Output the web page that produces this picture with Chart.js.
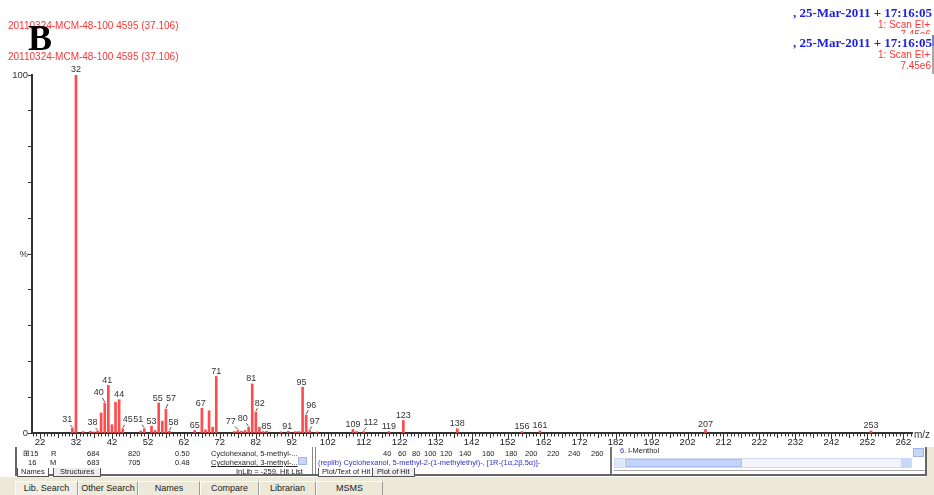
<!DOCTYPE html>
<html><head><meta charset="utf-8">
<script src="https://cdn.jsdelivr.net/npm/chart.js@4.4.1/dist/chart.umd.min.js"></script>
<style>
html,body{margin:0;padding:0;background:#fff;}
#wrap{position:relative;width:934px;height:495px;overflow:hidden;background:#fff;}
#c{position:absolute;left:0;top:0;width:934px;height:495px;}
.t{position:absolute;white-space:nowrap;font-family:"Liberation Sans",Arial,sans-serif;}
.red{color:#ff3535;font-size:10px;line-height:10px;}
.blue{color:#2020e0;font-family:"Liberation Serif","Times New Roman",serif;font-weight:bold;font-size:13px;line-height:13px;}
.p{position:absolute;white-space:nowrap;font-family:"Liberation Sans",Arial,sans-serif;font-size:7.5px;line-height:8px;color:#222;}
.box{position:absolute;}
.tab{position:absolute;top:481px;height:14px;border:1px solid #9a9a9a;border-bottom:none;border-top-color:#fdfdfd;border-left-color:#fdfdfd;box-sizing:border-box;text-align:center;font-family:"Liberation Sans",Arial,sans-serif;font-size:9px;line-height:13px;color:#222;background:#ece9d8;}
</style></head><body>
<div id="wrap">
<canvas id="c" width="934" height="495"></canvas>

<!-- header group 1 -->
<div class="t red" style="left:8px;top:21px;">20110324-MCM-48-100 4595 (37.106)</div>
<div class="t" style="left:28px;top:20px;font-family:'Liberation Serif','Times New Roman',serif;font-weight:bold;font-size:36px;line-height:36px;color:#000;">B</div>
<div class="t red" style="left:8px;top:51.5px;">20110324-MCM-48-100 4595 (37.106)</div>
<div class="t blue" style="right:2px;top:5.8px;">, 25-Mar-2011 + 17:16:05</div>
<div class="t red" style="right:4px;top:20px;">1: Scan EI+</div>
<div class="t red" style="right:3px;top:30px;">7.45e6</div>
<!-- header group 2 (covers part of group 1) -->
<div class="box" style="left:782px;top:34px;width:152px;height:40px;background:#fff;"></div>
<div class="t blue" style="right:2px;top:35.6px;">, 25-Mar-2011 + 17:16:05</div>
<div class="t red" style="right:4px;top:50px;">1: Scan EI+</div>
<div class="t red" style="right:3px;top:61px;">7.45e6</div>
<div class="box" style="left:932px;top:35px;width:2px;height:11px;background:#6f86c8;"></div>
<div class="box" style="left:932px;top:46px;width:2px;height:28px;background:#a8a8a8;"></div>
<div class="t" style="left:914px;top:430px;font-size:10px;line-height:10px;color:#333;">m/z</div>

<!-- bottom panel -->
<div class="box" style="left:925px;top:447px;width:9px;height:32px;background:#ece9d8;"></div>
<div class="box" style="left:0;top:477px;width:934px;height:18px;background:#ece9d8;"></div>
<div class="box" style="left:15px;top:447px;width:2px;height:29px;background:#666;"></div>
<div class="box" style="left:15px;top:474px;width:912px;height:2px;background:#666;"></div>
<div class="box" style="left:925px;top:447px;width:2px;height:29px;background:#666;"></div>
<div class="box" style="left:312px;top:447px;width:1px;height:27px;background:#888;"></div>
<div class="box" style="left:315px;top:447px;width:1px;height:27px;background:#888;"></div>
<div class="box" style="left:610px;top:447px;width:2px;height:27px;background:#777;"></div>
<div class="box" style="left:614px;top:470px;width:311px;height:1px;background:#aaa;"></div>

<div class="p" style="left:23px;top:450px;">&#8862;15</div>
<div class="p" style="left:51px;top:450px;">R</div>
<div class="p" style="left:87px;top:450px;">684</div>
<div class="p" style="left:128px;top:450px;">820</div>
<div class="p" style="left:175px;top:450px;">0.50</div>
<div class="p" style="left:211px;top:450px;">Cyclohexanol, 5-methyl-...</div>
<div class="p" style="left:28px;top:459px;">16</div>
<div class="p" style="left:50px;top:459px;">M</div>
<div class="p" style="left:87px;top:459px;">683</div>
<div class="p" style="left:128px;top:459px;">705</div>
<div class="p" style="left:175px;top:459px;">0.48</div>
<div class="p" style="left:211px;top:459px;text-decoration:underline;">Cyclohexanol, 3-methyl-...</div>
<div class="box" style="left:298px;top:457px;width:9px;height:8px;background:#c8d6f8;border:1px solid #9fb4ea;box-sizing:border-box;"></div>
<div class="p" style="left:17px;top:467.5px;border:1px solid #555;border-top:none;padding:0 3px;background:#fff;">Names</div>
<div class="p" style="left:53px;top:467.5px;border:1px solid #555;border-top:none;padding:0 6px;background:#eee;">Structures</div>
<div class="p" style="left:236px;top:467.5px;">InLib = -259, Hit List</div>

<div class="p" style="left:383px;top:450px;">40</div>
<div class="p" style="left:398px;top:450px;">60</div>
<div class="p" style="left:412px;top:450px;">80</div>
<div class="p" style="left:424px;top:450px;">100</div>
<div class="p" style="left:440px;top:450px;">120</div>
<div class="p" style="left:459px;top:450px;">140</div>
<div class="p" style="left:482px;top:450px;">160</div>
<div class="p" style="left:505px;top:450px;">180</div>
<div class="p" style="left:525px;top:450px;">200</div>
<div class="p" style="left:547px;top:450px;">220</div>
<div class="p" style="left:568px;top:450px;">240</div>
<div class="p" style="left:591px;top:450px;">260</div>
<div class="p" style="left:318px;top:459px;color:#3030d0;">(replib) Cyclohexanol, 5-methyl-2-(1-methylethyl)-, [1R-(1&#945;,2&#946;,5&#945;)]-</div>
<div class="p" style="left:318px;top:467.5px;border:1px solid #555;border-top:none;padding:0 3px;background:#fff;">Plot/Text of Hit</div>
<div class="p" style="left:372px;top:467.5px;border:1px solid #555;border-top:none;padding:0 4px;background:#eee;">Plot of Hit</div>

<div class="p" style="left:620px;top:447px;"><span style="color:#3030d0">6.</span> l-Menthol</div>
<div class="box" style="left:913px;top:448px;width:11px;height:9px;background:#c8d6f8;border:1px solid #9fb4ea;box-sizing:border-box;"></div>
<div class="box" style="left:614px;top:458px;width:298px;height:10px;background:#f3f5fb;border:1px solid #d0dbf5;box-sizing:border-box;"></div>
<div class="box" style="left:615px;top:459px;width:9px;height:8px;background:#dfe7fb;"></div>
<div class="box" style="left:625px;top:459px;width:117px;height:8px;background:#c3d4fb;border:1px solid #a9bff3;box-sizing:border-box;"></div>
<div class="box" style="left:901px;top:459px;width:10px;height:8px;background:#c8d6f8;"></div>

<div class="tab" style="left:15px;width:63px;background:#f1efe4;">Lib. Search</div>
<div class="tab" style="left:78px;width:60px;">Other Search</div>
<div class="tab" style="left:138px;width:62px;">Names</div>
<div class="tab" style="left:200px;width:59px;">Compare</div>
<div class="tab" style="left:259px;width:57px;">Librarian</div>
<div class="tab" style="left:316px;width:67px;">MSMS</div>
</div>

<script>
// ---- data ----
const mzValues = [31,32,34,36,37,38,39,40,41,42,43,44,45,50,51,53,54,55,56,57,58,65,67,68,69,70,71,76,77,78,79,80,81,82,83,84,85,89,91,93,94,95,96,97,99,109,110,112,119,123,138,156,161,207,253];
const intensities = [1.4,100,0.4,0.5,0.3,0.6,5.6,8.4,13.3,2.3,8.6,9.3,1.2,0.6,1.2,1.9,0.7,8.4,3.3,6.7,0.5,0.7,6.9,0.9,6.2,1.6,15.8,0.4,0.7,0.5,0.7,1.6,13.7,5.8,1.6,0.4,0.5,0.3,0.5,0.4,0.4,12.8,5.0,0.7,0.3,1.0,0.4,0.4,0.4,3.5,1.2,0.4,0.6,1.0,0.6];
const labeledPeaks = [31,32,38,40,41,44,45,51,53,55,57,58,65,67,71,77,80,81,82,85,91,95,96,97,109,112,119,123,138,156,161,207,253];
const xTickLabels = [22,32,42,52,62,72,82,92,102,112,122,132,142,152,162,172,182,192,202,212,222,232,242,252,262];
const yTickValues = [0,50,100];
const yTickTexts = ['0','%','100'];

// label placement (style only): [dx, gap above bar top]
const labelOffsets = {31:[-5,8],38:[-5,8],40:[-6,10],41:[-1,5],45:[5,9],51:[-6,9],55:[-1,4],57:[5,10],58:[4,9],67:[-1,5],77:[-7,9],80:[-6,9],81:[-1,5],82:[4,9],91:[-1,5],95:[-1,5],96:[5,10],97:[5,9],112:[7,9]};

const FONT = '"Liberation Sans", Arial, sans-serif';

const peakLabelPlugin = {
  id: 'peakLabels',
  afterDatasetsDraw(chart, args, opts) {
    const meta = chart.getDatasetMeta(0);
    const ctx = chart.ctx;
    ctx.save();
    ctx.font = '9px ' + FONT;
    ctx.fillStyle = '#333';
    ctx.textAlign = 'center';
    ctx.textBaseline = 'middle';
    ctx.strokeStyle = '#555';
    ctx.lineWidth = 1;
    labeledPeaks.forEach(m => {
      const i = mzValues.indexOf(m);
      const el = meta.data[i];
      if (!el) return;
      const off = opts.offsets[m] || [0, 5];
      const lx = el.x + off[0], ly = el.y - off[1];
      ctx.fillText(String(m), lx, ly);
      if (Math.abs(off[0]) >= 3) {
        ctx.beginPath();
        ctx.moveTo(el.x + off[0] * 0.4, ly + 5);
        ctx.lineTo(el.x, el.y - 1);
        ctx.stroke();
      }
    });
    ctx.restore();
  }
};

const minorTickPlugin = {
  id: 'minorTicks',
  afterDraw(chart) {
    const xs = chart.scales.x, ctx = chart.ctx;
    ctx.save();
    ctx.strokeStyle = '#333';
    ctx.lineWidth = 1;
    ctx.beginPath();
    const y0 = xs.top + 1;
    for (let m = Math.ceil(xs.min); m <= xs.max; m++) {
      const px = Math.round(xs.getPixelForValue(m)) + 0.5;
      const d = ((m - 22) % 10 + 10) % 10;
      const len = d === 0 ? 5 : (d === 5 ? 4 : 2.5);
      ctx.moveTo(px, y0);
      ctx.lineTo(px, y0 + len);
    }
    ctx.stroke();
    ctx.restore();
  }
};

new Chart(document.getElementById('c').getContext('2d'), {
  type: 'bar',
  data: {
    datasets: [{
      data: mzValues.map((m, i) => ({ x: m, y: intensities[i] })),
      backgroundColor: '#ff4d4d',
      borderWidth: 0,
      barThickness: 2,
      grouped: false
    }]
  },
  options: {
    responsive: false,
    animation: false,
    devicePixelRatio: 1,
    layout: { padding: { top: 75, right: 22, left: 0, bottom: 0 } },
    plugins: {
      legend: { display: false },
      tooltip: { enabled: false },
      peakLabels: { offsets: labelOffsets }
    },
    scales: {
      x: {
        type: 'linear',
        min: 19.78,
        max: 264.4,
        offset: false,
        grid: { display: false, drawTicks: false },
        border: { display: true, color: '#333', width: 2 },
        ticks: {
          autoSkip: false, maxRotation: 0, padding: 4,
          color: '#222',
          font: { family: FONT, size: 9.5 }
        },
        afterBuildTicks: s => { s.ticks = xTickLabels.map(v => ({ value: v })); },
        afterFit: s => { s.height = 62; }
      },
      y: {
        min: 0,
        max: 100,
        ticks: {
          stepSize: 10, padding: 0, autoSkip: false,
          color: '#333',
          font: { family: FONT, size: 9.5 },
          callback: v => { const k = yTickValues.indexOf(v); return k >= 0 ? yTickTexts[k] : ''; }
        },
        grid: { display: true, drawOnChartArea: false, drawTicks: true, tickLength: 4, color: '#333' },
        border: { display: true, color: '#333', width: 2 },
        afterFit: s => { s.width = 32; }
      }
    }
  },
  plugins: [peakLabelPlugin, minorTickPlugin]
});
</script>
</body></html>
